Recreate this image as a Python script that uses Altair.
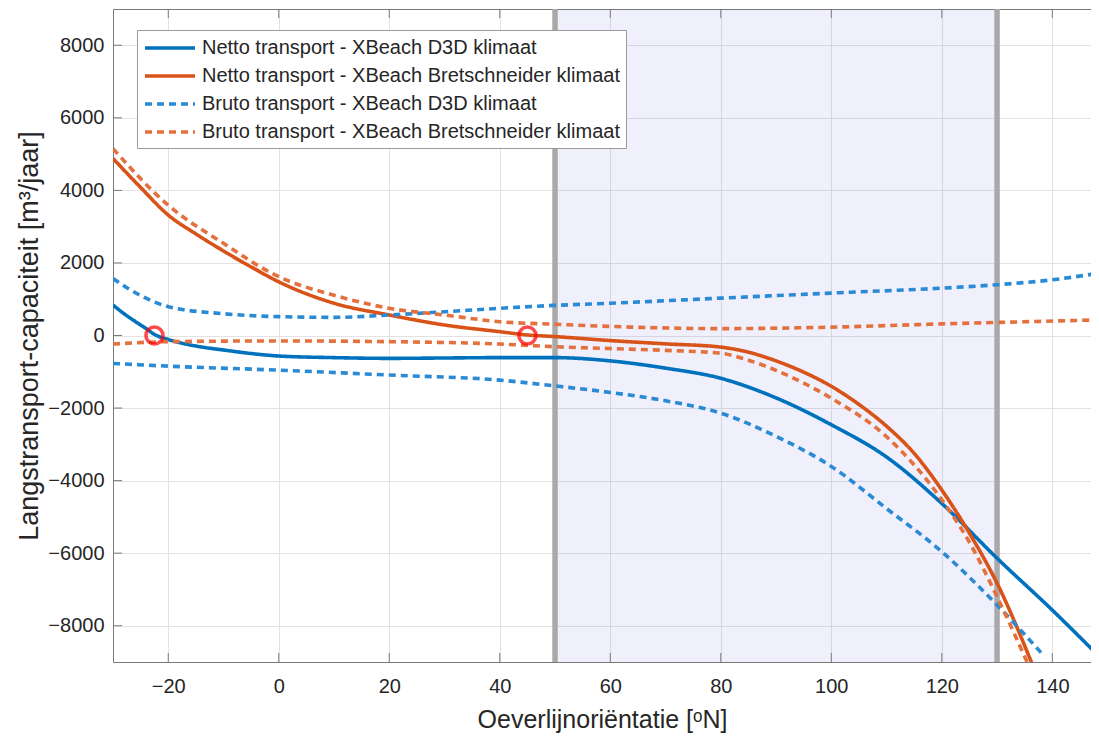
import altair as alt
import pandas as pd

# ---- data ----
series_names = [
    "Netto transport - XBeach D3D klimaat",
    "Netto transport - XBeach Bretschneider klimaat",
    "Bruto transport - XBeach D3D klimaat",
    "Bruto transport - XBeach Bretschneider klimaat",
]
series_colors = ["#0072BD", "#D95319", "#2a8ad4", "#e4703e"]
series_dash = [[1, 0], [1, 0], [7, 5], [7, 5]]
series_width = [3.6, 3.6, 2.0, 2.0]

netto_d3d_x = [-30, -28, -26, -24, -22.5, -20, -17, -15, -10, 0, 10, 20, 30, 40, 50, 60, 70, 80, 90, 100, 110, 120, 130, 140, 148.5]
netto_d3d_y = [840, 600, 390, 190, 30, -110, -230, -290, -400, -565, -610, -630, -620, -610, -610, -700, -900, -1180, -1720, -2460, -3350, -4630, -6140, -7570, -8850]

netto_bret_x = [-30, -25, -20, -15, -10, -5, 0, 10, 20, 30, 40, 45, 50, 60, 70, 80, 85, 90, 95, 100, 105, 110, 115, 120, 125, 130, 137]
netto_bret_y = [4880, 4080, 3320, 2800, 2330, 1890, 1480, 890, 565, 290, 105, 15, -30, -140, -230, -320, -460, -700, -1010, -1400, -1900, -2500, -3250, -4260, -5450, -6830, -9300]

bruto_d3d_pos_x = [-30, -25, -20, -10, 0, 10, 20, 30, 40, 50, 60, 80, 100, 120, 130, 140, 148.5]
bruto_d3d_pos_y = [1570, 1100, 795, 600, 520, 500, 565, 655, 750, 830, 890, 1030, 1170, 1305, 1400, 1535, 1720]

bruto_d3d_neg_x = [-30, -20, 0, 20, 40, 50, 60, 70, 80, 90, 100, 110, 120, 130, 138.3]
bruto_d3d_neg_y = [-770, -845, -955, -1090, -1230, -1390, -1570, -1800, -2140, -2780, -3610, -4770, -5960, -7430, -8800]

bruto_bret_pos_x = [-30, -20, -10, 0, 10, 20, 30, 40, 50, 60, 80, 100, 120, 130, 148.5]
bruto_bret_pos_y = [5150, 3590, 2540, 1620, 1110, 750, 565, 380, 310, 250, 190, 230, 320, 360, 430]

bruto_bret_neg_x = [-30, -20, 0, 20, 40, 50, 60, 70, 80, 85, 90, 95, 100, 110, 120, 125, 130, 136.3]
bruto_bret_neg_y = [-235, -170, -150, -170, -235, -310, -360, -410, -490, -680, -960, -1310, -1730, -2790, -4530, -5700, -7200, -9300]

marker_x = [-22.5, 45]
marker_y = [0, 0]

zone_start = [50]
zone_end = [130]

x_ticks = [-20, 0, 20, 40, 60, 80, 100, 120, 140]
y_ticks = [-8000, -6000, -4000, -2000, 0, 2000, 4000, 6000, 8000]
x_domain = [-30, 147]
y_domain = [-9000, 9000]

# ---- build tables ----
rows = []
def add(name, part, xs_, ys_):
    for a, b in zip(xs_, ys_):
        rows.append({"serie": name, "deel": part, "x": a, "y": b})

add(series_names[0], "n", netto_d3d_x, netto_d3d_y)
add(series_names[1], "n", netto_bret_x, netto_bret_y)
add(series_names[2], "pos", bruto_d3d_pos_x, bruto_d3d_pos_y)
add(series_names[2], "neg", bruto_d3d_neg_x, bruto_d3d_neg_y)
add(series_names[3], "pos", bruto_bret_pos_x, bruto_bret_pos_y)
add(series_names[3], "neg", bruto_bret_neg_x, bruto_bret_neg_y)
lines_df = pd.DataFrame(rows)
lines_df["groep"] = lines_df["serie"] + "|" + lines_df["deel"]

markers_df = pd.DataFrame({"x": marker_x, "y": marker_y})
zone_df = pd.DataFrame({"x0": zone_start, "x1": zone_end})
edges_df = pd.DataFrame({"x": zone_start + zone_end})
xt_df = pd.DataFrame({"x": x_ticks})
yt_df = pd.DataFrame({"y": y_ticks})

W, H = 978, 653
TL = 9  # inward tick length

FONT = "Liberation Sans"
TXT = "#262626"
GRID = "#e2e2e2"
AX = "#7a7a7a"

xs = alt.Scale(domain=x_domain, nice=False, zero=False)
ys = alt.Scale(domain=y_domain, nice=False, zero=False)

main_x_axis = alt.Axis(values=x_ticks, orient="bottom", title="Oeverlijnoriëntatie [ᵒN]",
                       grid=True, gridColor=GRID, ticks=False, tickSize=0, labelPadding=14,
                       domain=True, domainColor=AX, labelFontSize=20, titleFontSize=25,
                       titlePadding=11, labelColor=TXT, titleColor=TXT, titleFontWeight="normal",
                       labelFont=FONT, titleFont=FONT)
main_y_axis = alt.Axis(values=y_ticks, orient="left", title="Langstransport-capaciteit [m³/jaar]",
                       format="d",
                       grid=True, gridColor=GRID, ticks=False, tickSize=0, labelPadding=9,
                       domain=True, domainColor=AX, labelFontSize=20, titleFontSize=27,
                       titlePadding=4, labelColor=TXT, titleColor=TXT, titleFontWeight="normal",
                       labelFont=FONT, titleFont=FONT)

zone = alt.Chart(zone_df).mark_rect(color="#5a5ae6", opacity=0.09).transform_calculate(
    ylo="-9000", yhi="9000"
).encode(
    x=alt.X("x0:Q", scale=xs, axis=main_x_axis),
    x2="x1:Q",
    y=alt.Y("ylo:Q", scale=ys, axis=main_y_axis),
    y2="yhi:Q",
)

edges = alt.Chart(edges_df).mark_rule(color="#a9a9a9", strokeWidth=5.5).encode(
    x=alt.X("x:Q", scale=xs, axis=alt.Axis(orient="top", labels=False, ticks=False, grid=False,
                                            domain=True, domainColor=AX, title=None)),
)

# inward tick marks (MATLAB style), placed by the tick values
tick_top = alt.Chart(xt_df).mark_rule(color=AX, strokeWidth=1).encode(
    x=alt.X("x:Q", scale=xs, axis=None), y=alt.value(0), y2=alt.value(TL))
tick_bottom = alt.Chart(xt_df).mark_rule(color=AX, strokeWidth=1).encode(
    x=alt.X("x:Q", scale=xs, axis=None), y=alt.value(H - TL), y2=alt.value(H))
tick_left = alt.Chart(yt_df).mark_rule(color=AX, strokeWidth=1).encode(
    y=alt.Y("y:Q", scale=ys, axis=None), x=alt.value(0), x2=alt.value(TL))

legend = alt.Legend(
    title=None, orient="none", legendX=24, legendY=21,
    fillColor="white", strokeColor="#9a9a9a", padding=6,
    labelFont=FONT, labelFontSize=20, labelColor=TXT, labelLimit=0,
    symbolType="M-1,0H4", symbolSize=400, labelOffset=35, rowPadding=6,
)

lines_a = alt.Chart(lines_df).mark_line(interpolate="monotone", clip=True).encode(
    x=alt.X("x:Q", scale=xs, axis=None),
    y=alt.Y("y:Q", scale=ys, axis=None),
    color=alt.Color("serie:N", scale=alt.Scale(domain=series_names, range=series_colors), legend=legend),
    strokeDash=alt.StrokeDash("serie:N", scale=alt.Scale(domain=series_names, range=series_dash), legend=legend),
    strokeWidth=alt.StrokeWidth("serie:N", scale=alt.Scale(domain=series_names, range=series_width), legend=legend),
    detail="groep:N",
)

markers = alt.Chart(markers_df).mark_point(shape="circle", filled=False, color="#ff0000",
                                           size=290, strokeWidth=3.6).encode(
    x=alt.X("x:Q", scale=xs, axis=None),
    y=alt.Y("y:Q", scale=ys, axis=None),
)

chart = alt.layer(zone, edges, tick_top, tick_bottom, tick_left, lines_a, markers).resolve_axis(
    x="independent", y="independent"
).properties(
    width=W, height=H,
    autosize=alt.AutoSizeParams(type="none"),
    padding={"left": 105, "top": 1, "right": 0, "bottom": 75},
).configure_view(stroke=None).configure(font=FONT)

chart.save("out.html", embed_options={"renderer": "svg", "actions": False})
